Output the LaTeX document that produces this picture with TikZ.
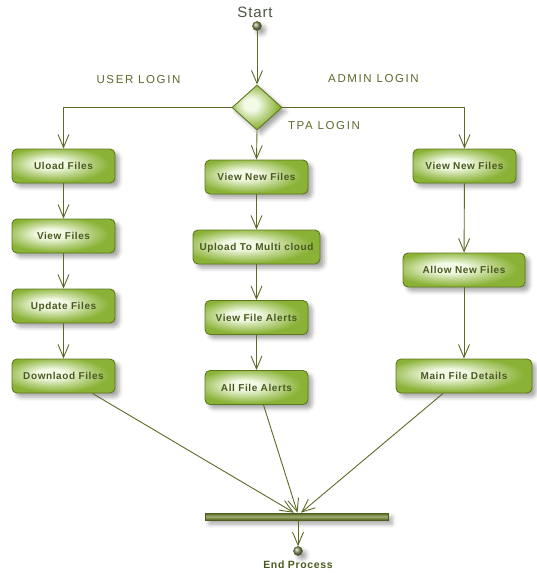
\documentclass[tikz,border=0pt]{standalone}
\usepackage{fontspec}
\setmainfont{Liberation Sans}
\newfontfamily\boxfont[LetterSpace=6]{Liberation Sans}
\newfontfamily\lblfont[LetterSpace=14]{Liberation Sans}
\newfontfamily\startfont[LetterSpace=6]{Liberation Sans}
\usetikzlibrary{arrows.meta,shapes.geometric,shadows.blur}

\definecolor{flowline}{HTML}{5B6B26}
\definecolor{boxline}{HTML}{5E781E}
\definecolor{boxlight}{HTML}{F3FAE6}
\definecolor{boxgreen}{HTML}{8AB236}
\colorlet{boxmid}{boxgreen!55!boxlight}
\definecolor{boxtext}{HTML}{4A5820}
\definecolor{lbltext}{HTML}{5A6A2A}
\definecolor{starttext}{HTML}{4C5440}
\definecolor{bardark}{HTML}{4E5E1A}
\definecolor{barlight}{HTML}{A3B076}

\pgfdeclareradialshading{leafshade}{\pgfpoint{-7bp}{4bp}}{%
  color(0bp)=(boxlight); color(7bp)=(boxlight); color(17bp)=(boxmid);
  color(26bp)=(boxgreen); color(60bp)=(boxgreen)}

\tikzset{
  softshadow/.style={blur shadow={shadow xshift=4pt, shadow yshift=-4pt,
      shadow blur radius=4pt, shadow opacity=35}},
  stepbox/.style={rectangle, rounded corners=5pt, draw=boxline, line width=0.9pt,
      shading=leafshade, minimum height=34pt, inner sep=0pt,
      text height=7.2pt, text depth=0pt, text=boxtext,
      font=\boxfont\bfseries\fontsize{10}{12}\selectfont, softshadow},
  decision/.style={diamond, draw=boxline, line width=0.9pt, shading=leafshade,
      minimum width=50pt, minimum height=45pt, inner sep=0pt, softshadow},
  terminal/.style={circle, draw=flowline, line width=0.6pt, ball color=boxline!60!gray!80,
      minimum size=9pt, inner sep=0pt, softshadow},
  syncbar/.style={rectangle, draw=bardark, line width=0.6pt, top color=bardark,
      bottom color=bardark, middle color=barlight, minimum width=183pt,
      minimum height=7pt, inner sep=0pt, softshadow},
  rolelabel/.style={text=lbltext, font=\lblfont\fontsize{11.5}{13}\selectfont,
      inner sep=0pt},
  flow/.style={draw=flowline, line width=0.9pt,
      -{Straight Barb[length=13pt,width=11pt,line width=0.9pt]}},
}

\begin{document}
\begin{tikzpicture}[x=1pt,y=-1pt]
\useasboundingbox (0,0) rectangle (537,573);

% start, branching and role labels
\node[text=starttext, font=\startfont\fontsize{15}{17}\selectfont, inner sep=0pt]
  (starttxt) at (255,12.5) {Start};
\node[terminal] (start) at (257,26) {};
\node[decision] (dec) at (257,107.5) {};
\node[rolelabel] (userlbl) at (138.5,80) {USER LOGIN};
\node[rolelabel] (adminlbl) at (373.5,79) {ADMIN LOGIN};
\node[rolelabel] (tpalbl) at (324,126) {TPA LOGIN};

% user column
\node[stepbox, minimum width=103pt] (u1) at (63.5,166) {Uload Files};
\node[stepbox, minimum width=103pt] (u2) at (63.5,236) {View Files};
\node[stepbox, minimum width=103pt] (u3) at (63.5,306) {Update Files};
\node[stepbox, minimum width=103pt] (u4) at (63.5,376) {Downlaod Files};

% tpa column
\node[stepbox, minimum width=103pt] (t1) at (256.5,177) {View New Files};
\node[stepbox, minimum width=127pt] (t2) at (256.5,247) {Upload To Multi cloud};
\node[stepbox, minimum width=103pt] (t3) at (256.5,317.5) {View File Alerts};
\node[stepbox, minimum width=103pt] (t4) at (256.5,387.5) {All File Alerts};

% admin column
\node[stepbox, minimum width=103pt] (a1) at (464.5,166) {View New Files};
\node[stepbox, minimum width=122pt] (a2) at (464,270) {Allow New Files};
\node[stepbox, minimum width=136pt] (a3) at (464,376) {Main File Details};

% join and end
\node[syncbar] (bar) at (296.5,516.5) {};
\node[terminal] (end) at (298,551) {};
\node[text=boxtext, font=\boxfont\bfseries\fontsize{10.5}{12}\selectfont,
  inner sep=0pt] (endtxt) at (298,565) {End Process};

% connectors
\draw[flow] (start) -- (dec.north);
\draw[flow] (dec.west) -| (u1.north);
\draw[flow] (dec.east) -| (a1.north);
\draw[flow] (dec.south) -- (t1.north);

\draw[flow] (u1) -- (u2);
\draw[flow] (u2) -- (u3);
\draw[flow] (u3) -- (u4);

\draw[flow] (t1) -- (t2);
\draw[flow] (t2) -- (t3);
\draw[flow] (t3) -- (t4);

\draw[flow] (a1) -- (a2);
\draw[flow] (a2) -- (a3);

\draw[flow] ([xshift=29pt]u4.south) -- ([xshift=-2.5pt]bar.north);
\draw[flow] ([xshift=7pt]t4.south) -- ([xshift=1pt]bar.north);
\draw[flow] ([xshift=-21pt]a3.south) -- ([xshift=4.5pt]bar.north);
\draw[flow] (bar.south -| end) -- (end.north);
\end{tikzpicture}
\end{document}
